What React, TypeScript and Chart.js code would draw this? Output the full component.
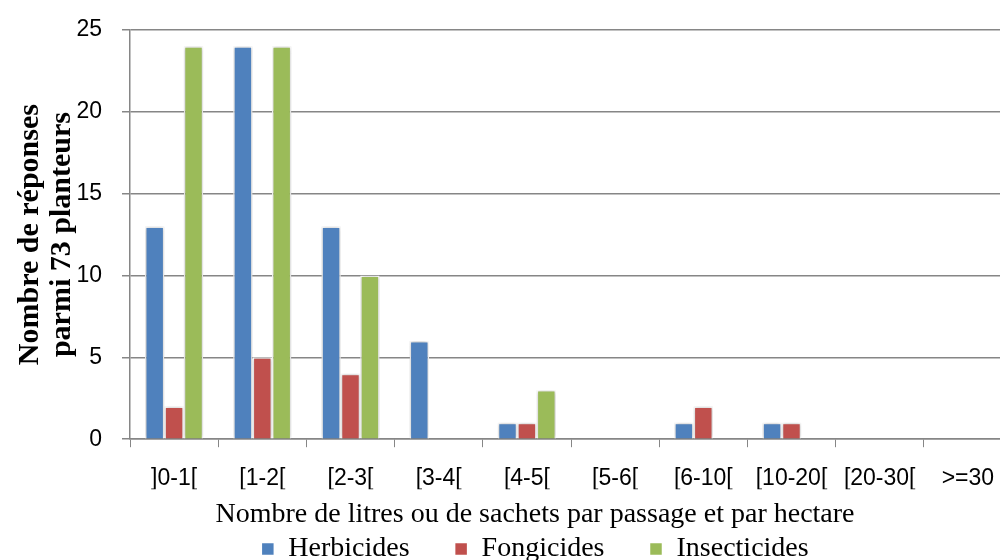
import React, { useEffect, useRef } from "react";
import { Chart, registerables } from "chart.js";

Chart.register(...registerables);

const categories = ["]0-1[", "[1-2[", "[2-3[", "[3-4[", "[4-5[", "[5-6[", "[6-10[", "[10-20[", "[20-30[", ">=30"];
const herbicides = [13, 24, 13, 6, 1, 0, 1, 1, 0, 0];
const fongicides = [2, 5, 4, 0, 1, 0, 2, 1, 0, 0];
const insecticides = [24, 24, 10, 0, 3, 0, 0, 0, 0, 0];
const seriesNames = ["Herbicides", "Fongicides", "Insecticides"];
const seriesColors = ["#4F81BD", "#C0504D", "#9BBB59"];
const yTitleLines = ["Nombre de réponses", "parmi 73 planteurs"];
const xTitle = "Nombre de litres ou de sachets par passage et par hectare";
const yMax = 25;
const yStep = 5;

const SANS = "'Liberation Sans', Arial, sans-serif";
const SERIF = "'Liberation Serif', 'Times New Roman', serif";

const shadowPlugin = {
  id: "barShadow",
  beforeDatasetsDraw(chart: any) {
    const ctx = chart.ctx;
    ctx.save();
    ctx.shadowColor = "rgba(0,0,0,0.28)";
    ctx.shadowBlur = 4;
    ctx.shadowOffsetX = 0;
    ctx.shadowOffsetY = 0;
  },
  afterDatasetsDraw(chart: any) {
    chart.ctx.restore();
  },
};

export default function App() {
  const canvasRef = useRef<HTMLCanvasElement | null>(null);

  useEffect(() => {
    document.body.style.margin = "0";
    document.body.style.overflow = "hidden";
    const canvas = canvasRef.current;
    if (!canvas) return;
    const values = [herbicides, fongicides, insecticides];
    const chart = new Chart(canvas, {
      type: "bar",
      data: {
        labels: categories,
        datasets: values.map((v, i) => ({
          label: seriesNames[i],
          data: v,
          backgroundColor: seriesColors[i],
          borderColor: "#ffffff",
          borderWidth: 1.5,
          categoryPercentage: 0.66,
          barPercentage: 1.0,
          yAxisID: "y",
        })),
      },
      options: {
        animation: false,
        responsive: false,
        maintainAspectRatio: false,
        layout: { padding: { left: 10, right: 0, top: 30, bottom: -2 } },
        plugins: {
          tooltip: { enabled: false },
          title: {
            display: true,
            text: xTitle,
            position: "bottom",
            weight: 500,
            color: "#000",
            font: { family: SERIF, size: 28, weight: "normal", lineHeight: 1.1 },
            padding: { top: 10, bottom: -40 },
          } as any,
          legend: {
            display: true,
            position: "bottom",
            maxHeight: 72,
            labels: {
              color: "#000",
              boxWidth: 13,
              boxHeight: 13,
              padding: 45,
              font: { family: SERIF, size: 28, lineHeight: 1.0 },
            },
          },
        },
        scales: {
          x: {
            grid: {
              display: true,
              drawOnChartArea: false,
              drawTicks: true,
              tickLength: 8,
              color: "#868686",
              offset: true,
            },
            border: { display: true, color: "#868686", width: 1.5 },
            ticks: {
              color: "#000",
              font: { family: SANS, size: 23 },
              padding: 18,
              maxRotation: 0,
              minRotation: 0,
              autoSkip: false,
            },
            afterFit: (s: any) => {
              s.height = 50;
            },
          },
          y: {
            min: 0,
            max: yMax,
            grid: {
              color: "#868686",
              lineWidth: 1.5,
              tickLength: 8,
              drawTicks: true,
            },
            border: { display: true, color: "#868686", width: 1.5 },
            ticks: {
              stepSize: yStep,
              color: "#000",
              font: { family: SANS, size: 23 },
              padding: 20,
            },
            title: {
              display: true,
              text: yTitleLines,
              color: "#000",
              font: { family: SERIF, size: 30, weight: "bold", lineHeight: 1.07 },
              padding: { top: 4, bottom: 4 },
            },
            afterFit: (s: any) => {
              s.width = 120;
              s.paddingTop = 0;
              s.paddingBottom = 0;
            },
          },
          yRightSpace: {
            type: "linear",
            position: "right",
            display: true,
            grid: { display: false, drawTicks: false },
            border: { display: false },
            ticks: { display: false },
            afterFit: (s: any) => {
              s.width = 48;
              s.paddingTop = 0;
              s.paddingBottom = 0;
            },
          },
        },
      },
      plugins: [shadowPlugin],
    });
    return () => chart.destroy();
  }, []);

  return (
    <div style={{ width: 1060, height: 560, position: "relative" }}>
      <canvas ref={canvasRef} width={1060} height={560} style={{ display: "block" }} />
    </div>
  );
}
